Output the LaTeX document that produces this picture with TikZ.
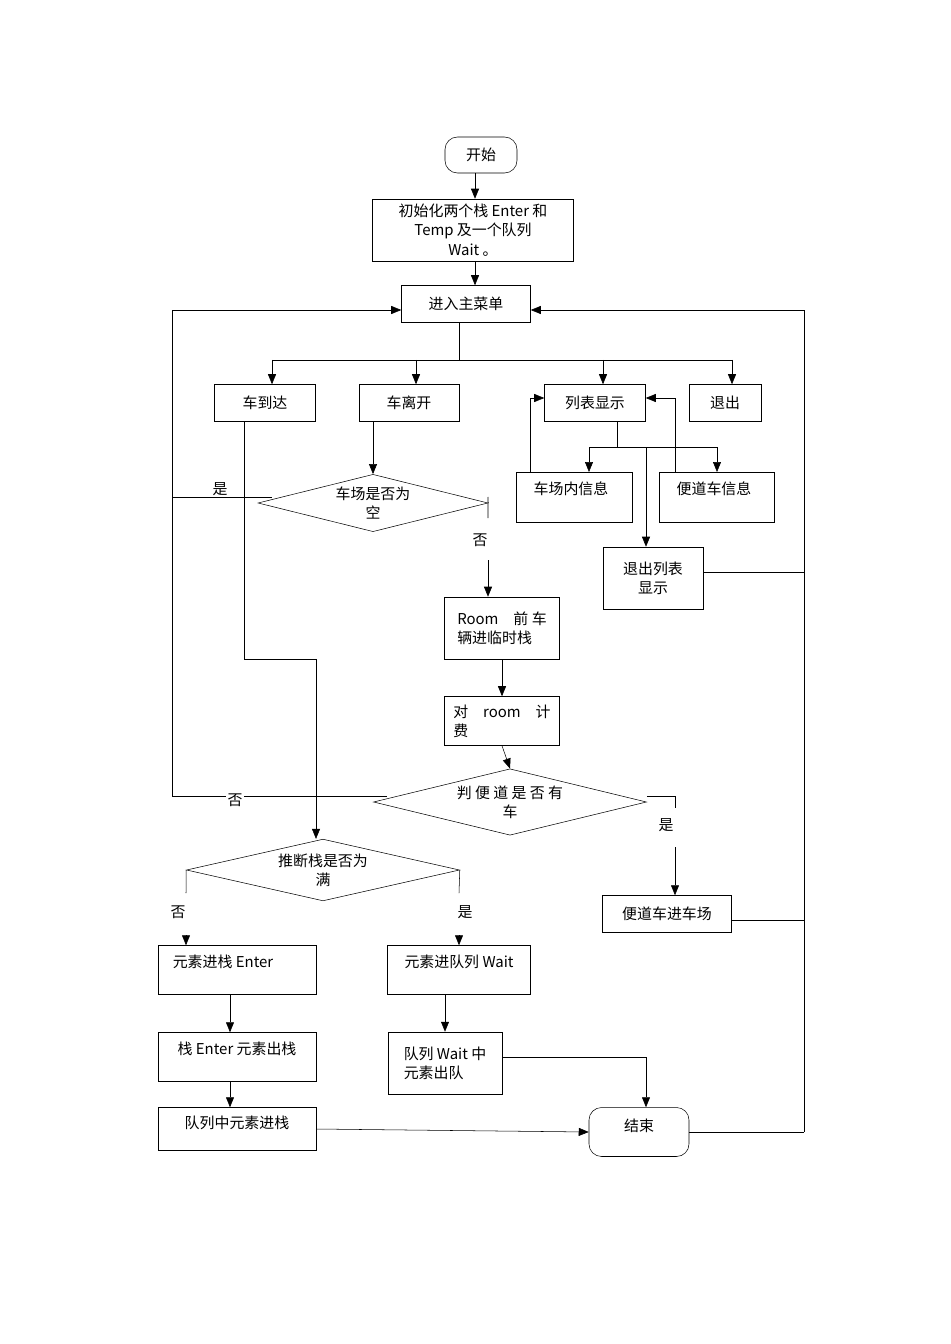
\documentclass[tikz,border=0pt]{standalone}
\usepackage{fontspec}
\setmainfont{Noto Sans CJK SC}
\usetikzlibrary{arrows.meta,shapes.geometric,calc}
\tikzset{
	box/.style={draw, minimum width=#1, inner sep=1pt, font=\fontsize{8.5}{11}\selectfont},
	round/.style={draw, rounded corners=2.5mm, minimum width=#1, font=\fontsize{8.5}{11}\selectfont},
	dia/.style={draw, diamond, aspect=3.7, inner sep=1pt, font=\fontsize{8.5}{11}\selectfont, align=center},
	lbl/.style={fill=white, inner sep=1pt, font=\fontsize{8.5}{11}\selectfont},
	arr/.style={-{Triangle[length=2mm,width=1.6mm]}},
	every path/.style={line width=0.3pt}
}
\begin{document}
\begin{tikzpicture}[x=0.02cm,y=-0.02cm]
	\useasboundingbox (0,0) rectangle (950,1344);

	% boxes
	\node[round=72*0.02cm, minimum height=0.72cm] (start) at (481,155) {开始};
	\node[box=201*0.02cm, minimum height=1.24cm, align=center] (init) at (473,230) {初始化两个栈 Enter 和\\Temp 及一个队列\\Wait 。};
	\node[box=129*0.02cm, minimum height=0.74cm] (menu) at (466,304) {进入主菜单};
	\node[box=101*0.02cm, minimum height=0.74cm] (arrive) at (265,403) {车到达};
	\node[box=100*0.02cm, minimum height=0.74cm] (leave) at (409,403) {车离开};
	\node[box=101*0.02cm, minimum height=0.74cm] (list) at (595,403) {列表显示};
	\node[box=72*0.02cm, minimum height=0.74cm] (quit) at (725,403) {退出};
	\node[box=116*0.02cm, minimum height=1cm, anchor=north] (yard) at (574,472) {};
	\node[font=\fontsize{8.5}{11}\selectfont] at (571,489) {车场内信息};
	\node[box=115*0.02cm, minimum height=1cm, anchor=north] (side) at (717,472) {};
	\node[font=\fontsize{8.5}{11}\selectfont] at (714,489) {便道车信息};
	\node[box=100*0.02cm, minimum height=1.24cm, align=center] (exitlist) at (653,578) {退出列表\\显示};
	\node[dia, minimum width=230*0.02cm] (empty) at (373,503) {车场是否为\\空};
	\node[box=115*0.02cm, minimum height=1.24cm, align=left] (room) at (502,628) {Room\quad 前 车\\辆进临时栈};
	\node[box=115*0.02cm, minimum height=0.98cm, align=left] (fee) at (502,721) {对\quad room\quad 计\\费};
	\node[dia, minimum width=273*0.02cm] (hasside) at (510,802) {判 便 道 是 否 有\\车\hspace{8em}};
	\node[box=129*0.02cm, minimum height=0.74cm] (sidein) at (667,914) {便道车进车场};
	\node[dia, minimum width=273*0.02cm] (full) at (323,870) {推断栈是否为\\满};
	\node[box=158*0.02cm, minimum height=0.98cm] (push) at (237,970) {};
	\node[font=\fontsize{8.5}{11}\selectfont] at (223,962) {元素进栈 Enter};
	\node[box=143*0.02cm, minimum height=0.98cm] (enq) at (459,970) {};
	\node[font=\fontsize{8.5}{11}\selectfont] at (459,962) {元素进队列 Wait};
	\node[box=158*0.02cm, minimum height=0.98cm] (pop) at (237,1057) {};
	\node[font=\fontsize{8.5}{11}\selectfont] at (237,1049) {栈 Enter 元素出栈};
	\node[box=114*0.02cm, minimum height=1.24cm, align=left] (deq) at (445,1063) {队列 Wait 中\\元素出队};
	\node[box=158*0.02cm, minimum height=0.86cm] (q2s) at (237,1129) {};
	\node[font=\fontsize{8.5}{11}\selectfont] at (237,1123) {队列中元素进栈};
	\node[round=100*0.02cm, minimum height=0.98cm] (finish) at (639,1132) {};
	\node[font=\fontsize{8.5}{11}\selectfont] at (639,1126) {结束};

	% main line
	\draw[arr] (start.south -| 475,0) -- (init.north -| 475,0);
	\draw[arr] (init.south -| 475,0) -- (menu.north -| 475,0);
	\draw (menu.south -| 459,0) -- (459,360);
	\draw (272,360) -- (732,360);
	\draw[arr] (272,360) -- (arrive.north -| 272,0);
	\draw[arr] (416,360) -- (leave.north -| 416,0);
	\draw[arr] (603,360) -- (list.north -| 603,0);
	\draw[arr] (732,360) -- (quit.north -| 732,0);

	% list branch
	\draw (list.south -| 617,0) -- (617,447);
	\draw (589,447) -- (717,447);
	\draw[arr] (589,447) -- (yard.north -| 589,0);
	\draw[arr] (717,447) -- (side.north -| 717,0);
	\draw[arr] (646,447) -- (exitlist.north -| 646,0);
	\draw[arr] (yard.north -| 530,0) -- (530,398) -- (list.west |- 0,398);
	\draw[arr] (side.north -| 675,0) -- (675,398) -- (list.east |- 0,398);
	\draw (exitlist.east |- 0,572) -- (804,572);
	\draw[arr] (804,1132) -- (804,310) -- (menu.east |- 0,310);
	\draw (sidein.east |- 0,920) -- (804,920);
	\draw (finish.east) -- (804,1132);

	% leave branch
	\draw[arr] (leave.south -| 373,0) -- (empty.north);
	\draw[arr] (387,796) -- (172,796) -- (172,310) -- (menu.west |- 0,310);
	\draw (172,497) -- (272,497);
	\node[lbl] at (220,489) {是};
	\node[lbl] at (235,800) {否};
	\draw (empty.east) -- (488,497) -- (488,518);
	\node[font=\fontsize{8.5}{11}\selectfont] at (480,540) {否};
	\draw[arr] (488,560) -- (room.north -| 488,0);
	\draw[arr] (room.south) -- (fee.north);
	\draw[arr] (fee.south) -- (hasside.north);
	\draw (hasside.east |- 0,796) -- (675,796) -- (675,808);
	\node[font=\fontsize{8.5}{11}\selectfont] at (666,825) {是};
	\draw[arr] (675,847) -- (sidein.north -| 675,0);

	% arrive branch
	\draw[arr] (arrive.south -| 244,0) -- (244,659) -- (316,659) -- (full.north -| 316,0);
	\draw (full.west) -- (186,893);
	\node[font=\fontsize{8.5}{11}\selectfont] at (178,912) {否};
	\draw[arr] (186,935) -- (push.north -| 186,0);
	\draw (full.east) -- (459,893);
	\node[font=\fontsize{8.5}{11}\selectfont] at (465,912) {是};
	\draw[arr] (459,935) -- (enq.north);
	\draw[arr] (push.south -| 230,0) -- (pop.north -| 230,0);
	\draw[arr] (pop.south -| 230,0) -- (q2s.north -| 230,0);
	\draw[arr] (q2s.east) -- (finish.west);
	\draw[arr] (enq.south -| 445,0) -- (deq.north);
	\draw[arr] (deq.east |- 0,1057) -- (646,1057) -- (finish.north -| 646,0);
\end{tikzpicture}
\end{document}
